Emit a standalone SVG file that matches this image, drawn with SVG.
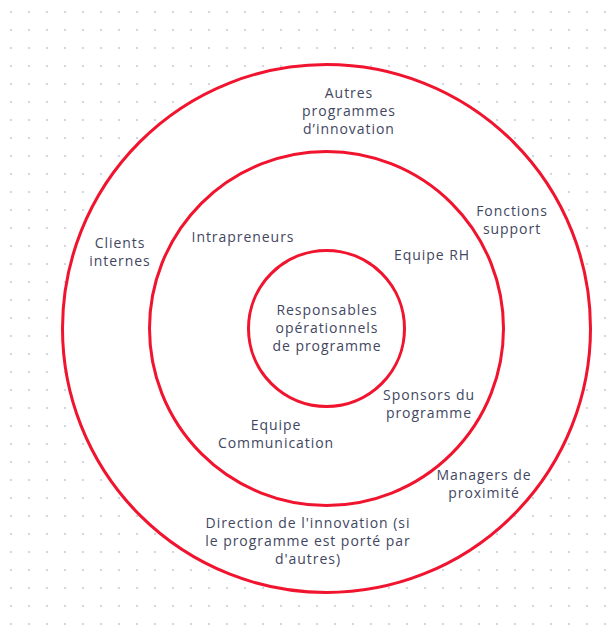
<svg xmlns="http://www.w3.org/2000/svg" width="610" height="632" viewBox="0 0 610 632">
  <defs>
    <pattern id="dots" patternUnits="userSpaceOnUse" x="2" y="3" width="18" height="18">
      <circle cx="9" cy="9" r="1.1" fill="#c9ccd9"/>
    </pattern>
    <style>
      .ring { fill: #ffffff; stroke: #f0142e; stroke-width: 3; }
      .lbl { font-family: "Open Sans", "Noto Sans", sans-serif; font-size: 14px; fill: #42475f; text-anchor: middle; letter-spacing: 0.95px; }
    </style>
  </defs>
  <rect width="610" height="632" fill="#ffffff"/>
  <rect width="610" height="632" fill="url(#dots)"/>

  <g id="ring-outer">
    <circle class="ring" cx="326.5" cy="328.5" r="264"/>
  </g>
  <g id="ring-middle">
    <circle class="ring" cx="326.5" cy="328.5" r="177"/>
  </g>
  <g id="ring-inner">
    <circle class="ring" cx="326.5" cy="328.5" r="78"/>
  </g>

  <g id="connectors"></g>

  <g id="node-responsables">
    <text class="lbl" x="327" y="315">Responsables</text>
    <text class="lbl" x="327" y="333">opérationnels</text>
    <text class="lbl" x="327" y="351">de programme</text>
  </g>
  <g id="node-autres-programmes">
    <text class="lbl" x="349" y="98">Autres</text>
    <text class="lbl" x="349" y="116">programmes</text>
    <text class="lbl" x="349" y="134">d’innovation</text>
  </g>
  <g id="node-fonctions-support">
    <text class="lbl" x="512" y="216">Fonctions</text>
    <text class="lbl" x="512" y="234">support</text>
  </g>
  <g id="node-equipe-rh">
    <text class="lbl" x="432" y="260">Equipe RH</text>
  </g>
  <g id="node-clients-internes">
    <text class="lbl" x="120" y="248">Clients</text>
    <text class="lbl" x="120" y="266">internes</text>
  </g>
  <g id="node-intrapreneurs">
    <text class="lbl" x="243" y="242">Intrapreneurs</text>
  </g>
  <g id="node-sponsors">
    <text class="lbl" x="429" y="400">Sponsors du</text>
    <text class="lbl" x="429" y="418">programme</text>
  </g>
  <g id="node-equipe-communication">
    <text class="lbl" x="276" y="430">Equipe</text>
    <text class="lbl" x="276" y="448">Communication</text>
  </g>
  <g id="node-managers">
    <text class="lbl" x="484" y="480">Managers de</text>
    <text class="lbl" x="484" y="498">proximité</text>
  </g>
  <g id="node-direction">
    <text class="lbl" x="308" y="528">Direction de l'innovation (si</text>
    <text class="lbl" x="308" y="546">le programme est porté par</text>
    <text class="lbl" x="308" y="564">d'autres)</text>
  </g>
</svg>
